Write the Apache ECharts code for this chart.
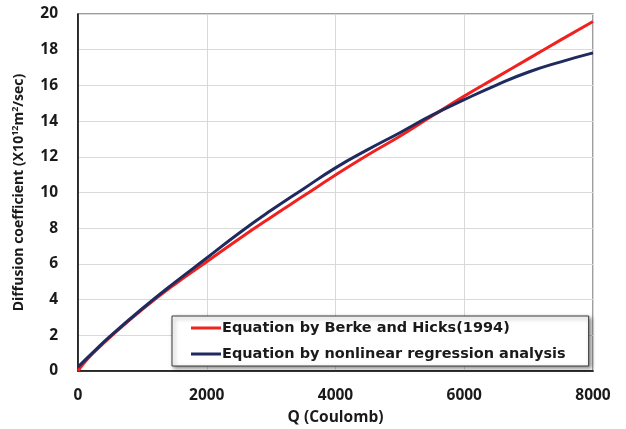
<!DOCTYPE html>
<html>
<head>
<meta charset="utf-8">
<script src="https://cdn.jsdelivr.net/npm/echarts@6/dist/echarts.min.js"></script>
<style>
  html, body { margin: 0; padding: 0; background: #ffffff; }
  #chart { width: 626px; height: 429px; }
</style>
</head>
<body>
<div id="chart"></div>
<script>
// Charge passed Q (Coulomb)
var charge = [0, 100, 250, 500, 1000, 1500, 2000, 2500, 3000, 3500, 4000, 4500, 5000, 5500, 6000, 6500, 7000, 7500, 8000];
// Diffusion coefficient, Berke and Hicks (1994)
var berkeHicks = [0, 0.48, 1.05, 1.9, 3.45, 4.85, 6.12, 7.4, 8.62, 9.8, 10.98, 12.1, 13.15, 14.28, 15.4, 16.45, 17.5, 18.55, 19.58];
// Diffusion coefficient, nonlinear regression
var regression = [0.22, 0.58, 1.1, 1.95, 3.5, 4.95, 6.33, 7.72, 9.0, 10.2, 11.38, 12.4, 13.35, 14.33, 15.2, 16.02, 16.75, 17.32, 17.82];

var seriesNames = ['Equation by Berke and Hicks(1994)', 'Equation by nonlinear regression analysis'];
var xTicks = { min: 0, max: 8000, step: 2000 };
var yTicks = { min: 0, max: 20, step: 2 };

function pairs(xs, ys) {
  return xs.map(function (x, i) { return [x, ys[i]]; });
}

var font = '"Open Sans", Lato, sans-serif';
var legendFont = '"DejaVu Sans", "Open Sans", sans-serif';
var textColor = '#1a1a1a';

var chart = echarts.init(document.getElementById('chart'), null, { renderer: 'canvas' });
chart.setOption({
  animation: false,
  backgroundColor: '#ffffff',
  grid: {
    left: 78, right: 33, top: 14, bottom: 58,
    outerBoundsMode: 'none', containLabel: false,
    show: true, borderColor: '#7f7f7f', borderWidth: 1.5, backgroundColor: 'transparent'
  },
  legend: {
    orient: 'vertical',
    left: 172, top: 316,
    data: seriesNames.map(function (n) { return { name: n, icon: 'rect' }; }),
    itemWidth: 30, itemHeight: 3, itemGap: 10,
    padding: [4, 23, 4, 19],
    backgroundColor: '#ffffff',
    borderColor: '#3a3a3a', borderWidth: 1,
    shadowBlur: 4, shadowColor: 'rgba(0,0,0,0.45)', shadowOffsetX: 2, shadowOffsetY: 2,
    textStyle: { fontFamily: legendFont, fontWeight: 'bold', fontSize: 14.5, color: textColor, padding: [0, 0, 0, -4], lineHeight: 16 }
  },
  xAxis: {
    type: 'value',
    min: xTicks.min, max: xTicks.max, interval: xTicks.step,
    name: 'Q (Coulomb)',
    nameLocation: 'middle', nameGap: 39,
    nameTextStyle: { fontFamily: font, fontWeight: 'bold', fontSize: 15.5, color: textColor },
    axisLine: { show: true, lineStyle: { color: '#000000', width: 1.5 } },
    axisTick: { show: false },
    axisLabel: {
      margin: 17, fontFamily: font, fontWeight: 'bold', fontSize: 15.5, color: textColor,
      formatter: function (v) { return String(v); }
    },
    splitLine: { show: true, lineStyle: { color: '#d9d9d9', width: 1 } }
  },
  yAxis: {
    type: 'value',
    min: yTicks.min, max: yTicks.max, interval: yTicks.step,
    name: '{a|Diffusion coefficient (X10}{s|12}{a|m}{s|2}{a|/sec)}',
    nameLocation: 'middle', nameGap: 50, nameRotate: 90,
    nameTextStyle: {
      rich: {
        a: { fontFamily: font, fontWeight: 'bold', fontSize: 14, color: textColor, lineHeight: 17, verticalAlign: 'middle' },
        s: { fontFamily: font, fontWeight: 'bold', fontSize: 9, color: textColor, lineHeight: 17, verticalAlign: 'top' }
      }
    },
    axisLine: { show: true, lineStyle: { color: '#000000', width: 1.5 } },
    axisTick: { show: false },
    axisLabel: { margin: 20, fontFamily: font, fontWeight: 'bold', fontSize: 15.5, color: textColor },
    splitLine: { show: true, lineStyle: { color: '#d9d9d9', width: 1 } }
  },
  series: [
    {
      name: seriesNames[0], type: 'line', smooth: true, symbol: 'none',
      data: pairs(charge, berkeHicks),
      lineStyle: { color: '#f0211f', width: 3 }, itemStyle: { color: '#f0211f' }, z: 2
    },
    {
      name: seriesNames[1], type: 'line', smooth: true, symbol: 'none',
      data: pairs(charge, regression),
      lineStyle: { color: '#1f2a5e', width: 3 }, itemStyle: { color: '#1f2a5e' }, z: 3
    }
  ]
});
</script>
</body>
</html>
